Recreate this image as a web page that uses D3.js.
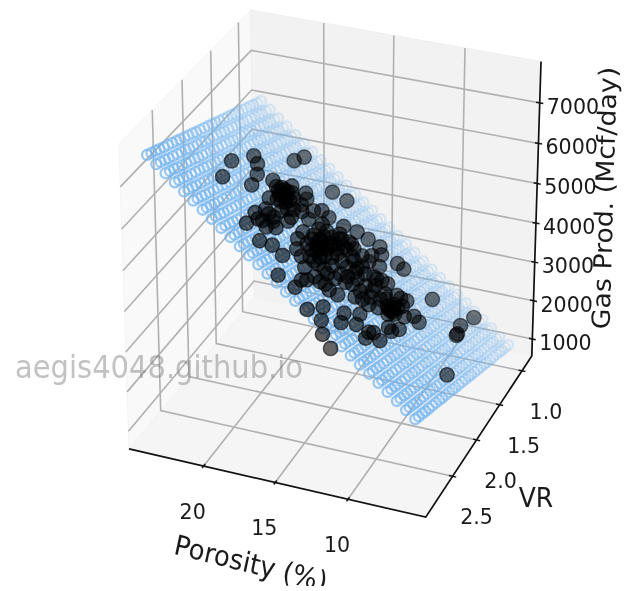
<!DOCTYPE html>
<html>
<head>
<meta charset="utf-8">
<script src="https://cdn.jsdelivr.net/npm/d3@7"></script>
<style>
    html, body { margin: 0; padding: 0; background: #fff; }
    svg { display: block; filter: blur(0.5px); }
    text { font-family: "DejaVu Sans", sans-serif; fill: #1a1a1a; }
</style>
</head>
<body>
<div id="chart"></div>
<script>
var porosity = [21.82,21.52,21.07,20.58,20.23,21.29,20.30,20.22,19.91,17.85,17.06,19.20,19.11,18.79,19.18,19.54,18.58,18.75,19.20,18.50,18.20,18.90,18.80,18.24,18.04,17.70,17.69,18.63,17.77,17.50,17.28,16.78,17.23,17.54,17.03,16.33,15.60,14.65,14.79,12.80,11.98,12.58,13.41,13.09,11.94,12.24,11.44,11.77,10.63,10.77,10.63,10.12,10.15,10.01,9.72,10.11,10.38,11.02,11.07,10.97,10.78,11.32,11.50,10.96,11.49,12.26,11.90,12.52,12.79,13.31,12.61,13.23,13.63,13.96,14.58,15.24,15.80,16.24,16.06,15.88,15.65,15.18,15.44,15.07,15.15,15.55,15.99,15.39,14.74,14.07,13.74,12.84,12.43,10.27,8.17,8.31,8.07,8.05,6.74,16.82,16.53,14.55,14.11,13.67,13.91,13.73,14.18,13.50,16.28,16.23,15.48,15.26,14.65,14.50,14.41,14.95,14.64,12.30,13.22,13.23,13.75,12.18,12.77,13.99,16.66,16.66,10.92,11.25,10.40,18.24,17.78,
    19.36,19.03,18.91,19.31,18.88,18.60,18.55,18.95,16.40,15.93,16.04,15.67,15.64,15.57,15.82,15.17,15.47,14.90,14.98,15.44,15.27,14.95,15.75,15.84,16.19,14.71,15.02,15.54,14.34,13.93,14.22,13.67,13.31,13.70,14.18,11.16,10.92,11.18,11.66,11.82,12.38,12.55,12.94,12.71,11.92,10.87,18.50,18.36,18.31,17.99,18.55,18.07,18.08]
var vr = [2.02,1.70,1.75,1.88,2.07,2.31,1.27,1.10,1.77,1.19,1.12,1.74,1.86,1.81,1.61,1.80,1.81,1.92,2.02,1.53,1.59,2.35,2.19,2.19,2.25,2.29,2.07,2.57,1.80,1.65,1.55,1.55,1.81,2.62,2.53,2.53,2.80,2.75,2.60,2.60,2.97,2.83,2.86,2.66,2.64,2.50,2.49,2.33,2.54,2.44,2.39,2.41,2.17,2.06,1.74,1.73,1.85,1.94,1.87,2.01,1.93,1.92,2.05,1.63,1.68,1.65,1.80,1.82,1.94,1.80,2.19,2.35,2.40,2.38,2.41,2.42,2.33,2.30,1.92,1.93,2.04,2.06,1.80,1.73,1.61,1.69,1.48,1.38,1.34,1.29,1.35,1.28,1.27,1.30,1.03,1.28,1.42,1.45,2.04,2.03,1.81,2.09,1.93,1.89,1.50,1.61,1.62,2.13,2.01,1.74,1.88,2.24,2.54,1.92,1.75,1.89,2.22,2.13,1.54,2.07,1.83,2.01,1.72,2.09,1.71,2.17,1.83,1.67,2.16,1.94,1.99,
    1.75,1.73,1.83,1.82,1.69,1.88,1.74,1.94,1.94,2.01,1.84,1.87,2.10,2.01,1.75,1.83,1.66,1.72,1.60,1.95,2.13,1.99,1.62,2.13,2.12,1.63,2.23,2.24,2.24,2.21,2.41,2.04,1.95,1.75,1.77,1.94,1.93,1.82,1.85,1.92,1.92,1.68,1.73,2.06,2.12,1.75,2.21,2.36,2.03,2.39,2.39,1.87,1.72]
var gasProd = [6304,5962,5873,5844,5900,6395,5273,5114,5573,4524,4245,5345,5417,5289,5236,5489,5230,5364,5576,4979,4946,5757,5598,5440,5444,5377,5191,5865,4996,4795,4658,4520,4856,5598,5383,5186,5204,4899,4815,3290,4336,4388,4639,4388,4057,4030,3795,3754,3608,3570,3485,3362,3178,3047,2705,2807,2977,3231,3188,3274,3155,3296,3461,2966,3152,3337,3362,3554,3724,3756,3882,4151,4329,4410,4602,4796,4877,4980,4615,4573,4605,4485,4347,4186,4114,4292,4241,3989,3781,3556,3473,3203,3071,2509,1738,1943,1990,2004,2125,4924,4659,4339,4081,3931,3685,3720,3855,4076,4752,4517,4426,4659,4730,4182,4022,4286,4467,3740,3519,3950,3905,3610,3538,4182,4621,4990,3118,3076,3240,5240,5150,
    5401,5288,5343,5444,5217,5292,5167,5437,4729,4654,4552,4468,4652,4554,4416,4299,4241,4129,4057,4469,4567,4363,4288,4725,4824,4009,4583,4738,4403,4270,4503,4055,3878,3825,3977,3271,3195,3179,3331,3434,3592,3448,3595,3796,3625,3038,5533,5617,5337,5533,5690,5138,5015]

// Regression surface, one row of gas values per porosity, one column per VR
var surfacePorosity = [6,6.62,7.24,7.86,8.48,9.10,9.72,10.34,10.97,11.59,12.21,12.83,13.45,14.07,14.69,15.31,15.93,16.55,17.17,17.79,18.41,19.03,19.66,20.28,20.9,21.52,22.14,22.76,23.38,24]
var surfaceVr = [0.93,1.00,1.07,1.13,1.20,1.27,1.34,1.41,1.47,1.54,1.61,1.68,1.75,1.81,1.88,1.95,2.02,2.09,2.15,2.22,2.29,2.36,2.42,2.49,2.56,2.63,2.70,2.76,2.83,2.90]
var surfaceGas = [
    [1015,1070,1125,1181,1236,1291,1346,1401,1457,1512,1567,1622,1677,1733,1788,1843,1898,1953,2009,2064,2119,2174,2229,2285,2340,2395,2450,2505,2561,2616],
    [1188,1243,1298,1354,1409,1464,1519,1574,1630,1685,1740,1795,1850,1906,1961,2016,2071,2126,2182,2237,2292,2347,2402,2458,2513,2568,2623,2678,2734,2789],
    [1361,1416,1471,1527,1582,1637,1692,1747,1803,1858,1913,1968,2023,2079,2134,2189,2244,2299,2355,2410,2465,2520,2575,2631,2686,2741,2796,2851,2907,2962],
    [1533,1588,1643,1699,1754,1809,1864,1919,1975,2030,2085,2140,2195,2251,2306,2361,2416,2471,2527,2582,2637,2692,2747,2803,2858,2913,2968,3023,3079,3134],
    [1706,1761,1816,1872,1927,1982,2037,2092,2148,2203,2258,2313,2368,2424,2479,2534,2589,2644,2700,2755,2810,2865,2920,2976,3031,3086,3141,3196,3252,3307],
    [1879,1934,1989,2045,2100,2155,2210,2265,2321,2376,2431,2486,2541,2597,2652,2707,2762,2817,2873,2928,2983,3038,3093,3149,3204,3259,3314,3369,3425,3480],
    [2052,2107,2162,2218,2273,2328,2383,2438,2494,2549,2604,2659,2714,2770,2825,2880,2935,2990,3046,3101,3156,3211,3266,3322,3377,3432,3487,3542,3598,3653],
    [2225,2280,2335,2391,2446,2501,2556,2611,2667,2722,2777,2832,2887,2943,2998,3053,3108,3163,3219,3274,3329,3384,3439,3495,3550,3605,3660,3715,3771,3826],
    [2397,2452,2507,2563,2618,2673,2728,2783,2839,2894,2949,3004,3059,3115,3170,3225,3280,3335,3391,3446,3501,3556,3611,3667,3722,3777,3832,3887,3943,3998],
    [2570,2625,2680,2736,2791,2846,2901,2956,3012,3067,3122,3177,3232,3288,3343,3398,3453,3508,3564,3619,3674,3729,3784,3840,3895,3950,4005,4060,4116,4171],
    [2743,2798,2853,2909,2964,3019,3074,3129,3185,3240,3295,3350,3405,3461,3516,3571,3626,3681,3737,3792,3847,3902,3957,4013,4068,4123,4178,4233,4289,4344],
    [2916,2971,3026,3082,3137,3192,3247,3302,3358,3413,3468,3523,3578,3634,3689,3744,3799,3854,3910,3965,4020,4075,4130,4186,4241,4296,4351,4406,4462,4517],
    [3089,3144,3199,3255,3310,3365,3420,3475,3531,3586,3641,3696,3751,3807,3862,3917,3972,4027,4083,4138,4193,4248,4303,4359,4414,4469,4524,4579,4635,4690],
    [3261,3316,3371,3427,3482,3537,3592,3647,3703,3758,3813,3868,3923,3979,4034,4089,4144,4199,4255,4310,4365,4420,4475,4531,4586,4641,4696,4751,4807,4862],
    [3434,3489,3544,3600,3655,3710,3765,3820,3876,3931,3986,4041,4096,4152,4207,4262,4317,4372,4428,4483,4538,4593,4648,4704,4759,4814,4869,4924,4980,5035],
    [3607,3662,3717,3773,3828,3883,3938,3993,4049,4104,4159,4214,4269,4325,4380,4435,4490,4545,4601,4656,4711,4766,4821,4877,4932,4987,5042,5097,5153,5208],
    [3780,3835,3890,3946,4001,4056,4111,4166,4222,4277,4332,4387,4442,4498,4553,4608,4663,4718,4774,4829,4884,4939,4994,5050,5105,5160,5215,5270,5326,5381],
    [3953,4008,4063,4119,4174,4229,4284,4339,4395,4450,4505,4560,4615,4671,4726,4781,4836,4891,4947,5002,5057,5112,5167,5223,5278,5333,5388,5443,5499,5554],
    [4125,4180,4235,4291,4346,4401,4456,4511,4567,4622,4677,4732,4787,4843,4898,4953,5008,5063,5119,5174,5229,5284,5339,5395,5450,5505,5560,5615,5671,5726],
    [4298,4353,4408,4464,4519,4574,4629,4684,4740,4795,4850,4905,4960,5016,5071,5126,5181,5236,5292,5347,5402,5457,5512,5568,5623,5678,5733,5788,5844,5899],
    [4471,4526,4581,4637,4692,4747,4802,4857,4913,4968,5023,5078,5133,5189,5244,5299,5354,5409,5465,5520,5575,5630,5685,5741,5796,5851,5906,5961,6017,6072],
    [4644,4699,4754,4810,4865,4920,4975,5030,5086,5141,5196,5251,5306,5362,5417,5472,5527,5582,5638,5693,5748,5803,5858,5914,5969,6024,6079,6134,6190,6245],
    [4817,4872,4927,4983,5038,5093,5148,5203,5259,5314,5369,5424,5479,5535,5590,5645,5700,5755,5811,5866,5921,5976,6031,6087,6142,6197,6252,6307,6363,6418],
    [4989,5044,5099,5155,5210,5265,5320,5375,5431,5486,5541,5596,5651,5707,5762,5817,5872,5927,5983,6038,6093,6148,6203,6259,6314,6369,6424,6479,6535,6590],
    [5162,5217,5272,5328,5383,5438,5493,5548,5604,5659,5714,5769,5824,5880,5935,5990,6045,6100,6156,6211,6266,6321,6376,6432,6487,6542,6597,6652,6708,6763],
    [5335,5390,5445,5501,5556,5611,5666,5721,5777,5832,5887,5942,5997,6053,6108,6163,6218,6273,6329,6384,6439,6494,6549,6605,6660,6715,6770,6825,6881,6936],
    [5508,5563,5618,5674,5729,5784,5839,5894,5950,6005,6060,6115,6170,6226,6281,6336,6391,6446,6502,6557,6612,6667,6722,6778,6833,6888,6943,6998,7054,7109],
    [5681,5736,5791,5847,5902,5957,6012,6067,6123,6178,6233,6288,6343,6399,6454,6509,6564,6619,6675,6730,6785,6840,6895,6951,7006,7061,7116,7171,7227,7282],
    [5853,5908,5963,6019,6074,6129,6184,6239,6295,6350,6405,6460,6515,6571,6626,6681,6736,6791,6847,6902,6957,7012,7067,7123,7178,7233,7288,7343,7399,7454],
    [6026,6081,6136,6192,6247,6302,6357,6412,6468,6523,6578,6633,6688,6744,6799,6854,6909,6964,7020,7075,7130,7185,7240,7296,7351,7406,7461,7516,7572,7627]
]

// Tick labels
var xTicks = [20, 15, 10]
var yTicks = [1.0, 1.5, 2.0, 2.5]
var zTicks = [1000, 2000, 3000, 4000, 5000, 6000, 7000]

var svgWidth = 625
var svgHeight = 591

var svg = d3.select("#chart")
    .append("svg")
    .attr("width", svgWidth)
    .attr("height", svgHeight)

// Axis limits of the box
var xMin = 4.75, xMax = 25.3
var yMin = 0.773, yMax = 3.04
var zMin = 553, zMax = 8006

// data -> unit box centred on 0
var xScale = d3.scaleLinear().domain([xMin, xMax]).range([-0.5, 0.5])
var yScale = d3.scaleLinear().domain([yMin, yMax]).range([-0.5, 0.5])
var zScale = d3.scaleLinear().domain([zMin, zMax]).range([-0.5, 0.5])

// projected plane -> pixels, the source image is a bit taller than wide
var yStretch = 339 / 316.5
var screenX = d3.scaleLinear().domain([-1, 1]).range([335.2 - 316.5, 335.2 + 316.5])
var screenY = d3.scaleLinear().domain([-1, 1]).range([255 + 339, 255 - 339])

// camera like mplot3d view_init
var elev = 28 * Math.PI / 180
var azim = 112 * Math.PI / 180
var dist = 10

var u = [-Math.sin(azim), Math.cos(azim), 0]
var v = [-Math.sin(elev) * Math.cos(azim), -Math.sin(elev) * Math.sin(azim), Math.cos(elev)]
var w = [Math.cos(elev) * Math.cos(azim), Math.cos(elev) * Math.sin(azim), Math.sin(elev)]

function dot(a, b) {
    return a[0] * b[0] + a[1] * b[1] + a[2] * b[2]
}

function project(x, y, z) {
    var d = [xScale(x), yScale(y), zScale(z)]
    var depth = dot(d, w)
    var f = dist / (dist - depth)
    return { x: screenX(dot(d, u) * f), y: screenY(dot(d, v) * f), depth: depth }
}

var line = d3.line().x(d => d.x).y(d => d.y)

function drawPath(pts, fill, stroke, width) {
    svg.append("path")
        .attr("d", line(pts.map(p => project(p[0], p[1], p[2]))) + (fill != "none" ? "Z" : ""))
        .attr("fill", fill)
        .attr("stroke", stroke)
        .attr("stroke-width", width)
}

// Panes
drawPath([[xMax, yMin, zMin], [xMax, yMax, zMin], [xMax, yMax, zMax], [xMax, yMin, zMax]], "#f9f9f9", "#f4f4f4", 1)
drawPath([[xMin, yMin, zMin], [xMax, yMin, zMin], [xMax, yMin, zMax], [xMin, yMin, zMax]], "#f2f2f2", "#eeeeee", 1)
drawPath([[xMin, yMin, zMin], [xMax, yMin, zMin], [xMax, yMax, zMin], [xMin, yMax, zMin]], "#f5f5f5", "#f2f2f2", 1)

// Gridlines
var gridColor = "#b0b0b0"
xTicks.forEach(t => drawPath([[t, yMax, zMin], [t, yMin, zMin], [t, yMin, zMax]], "none", gridColor, 1.6))
yTicks.forEach(t => drawPath([[xMin, t, zMin], [xMax, t, zMin], [xMax, t, zMax]], "none", gridColor, 1.6))
zTicks.forEach(t => drawPath([[xMin, yMin, t], [xMax, yMin, t], [xMax, yMax, t]], "none", gridColor, 1.6))

// Axis lines and tick marks
var axisColor = "#111"
drawPath([[xMax, yMax, zMin], [xMin, yMax, zMin], [xMin, yMin, zMin], [xMin, yMin, zMax]], "none", axisColor, 1.7)

var xPad = (xMax - xMin) * 0.012
var yPad = (yMax - yMin) * 0.012
xTicks.forEach(t => drawPath([[t, yMax - yPad, zMin], [t, yMax + yPad, zMin]], "none", axisColor, 1.5))
yTicks.forEach(t => drawPath([[xMin + xPad, t, zMin], [xMin - xPad, t, zMin]], "none", axisColor, 1.5))
zTicks.forEach(t => drawPath([[xMin + xPad, yMin, t], [xMin - xPad, yMin, t]], "none", axisColor, 1.5))

// Surface rings, far ones first and paler
var rings = []
surfacePorosity.forEach((px, i) => {
    surfaceVr.forEach((py, j) => {
        rings.push(project(px, py, surfaceGas[i][j]))
    })
})
rings.sort((a, b) => a.depth - b.depth)

var ringAlpha = d3.scaleLinear()
    .domain(d3.extent(rings, d => d.depth))
    .range([0.22, 0.72])

svg.append("g")
    .selectAll("circle")
    .data(rings)
    .enter()
    .append("circle")
    .attr("cx", d => d.x)
    .attr("cy", d => d.y)
    .attr("r", 5)
    .attr("fill", "none")
    .attr("stroke", "#70b3f0")
    .attr("stroke-width", 2.3)
    .attr("stroke-opacity", d => ringAlpha(d.depth))

// Measured wells on top
var wells = porosity.map((p, i) => project(p, vr[i], gasProd[i]))
wells.sort((a, b) => a.depth - b.depth)

var wellAlpha = d3.scaleLinear()
    .domain(d3.extent(wells, d => d.depth))
    .range([0.5, 0.62])

svg.append("g")
    .selectAll("circle")
    .data(wells)
    .enter()
    .append("circle")
    .attr("cx", d => d.x)
    .attr("cy", d => d.y)
    .attr("r", 7.2)
    .attr("fill", "#000")
    .attr("fill-opacity", d => wellAlpha(d.depth))
    .attr("stroke", "#000")
    .attr("stroke-opacity", d => wellAlpha(d.depth))
    .attr("stroke-width", 1.4)

// Text, stretched like the rest of the image
function drawText(str, x, y, size, rotate, anchor) {
    return svg.append("text")
        .attr("transform", `translate(${x}, ${y}) scale(1, ${yStretch}) rotate(${rotate})`)
        .attr("text-anchor", anchor || "middle")
        .attr("dominant-baseline", "central")
        .attr("font-size", size)
        .text(str)
}

var tickSize = 20.6
xTicks.forEach(t => {
    var p = project(t, yMax, zMin)
    drawText(t, p.x - 11, p.y + 45, tickSize, 0)
})
yTicks.forEach(t => {
    var p = project(xMin, t, zMin)
    drawText(t.toFixed(1), p.x + 24, p.y + 40, tickSize, 0)
})
zTicks.forEach(t => {
    var p = project(xMin, yMin, t)
    drawText(t, p.x + 7, p.y + 3, tickSize, 0, "start")
})

drawText("Porosity (%)", 251, 563, 26, 13)
drawText("VR", 536, 498, 25, 0)
drawText("Gas Prod. (Mcf/day)", 604.5, 198, 25, -88.3)

// The source image is cropped just under the x label
svg.append("rect")
    .attr("x", 0)
    .attr("y", 586)
    .attr("width", svgWidth)
    .attr("height", svgHeight - 586)
    .attr("fill", "#fff")

// Watermark
drawText("aegis4048.github.io", 15, 367.5, 29, 0, "start")
    .style("fill", "#808080")
    .style("fill-opacity", 0.48)
</script>
</body>
</html>
